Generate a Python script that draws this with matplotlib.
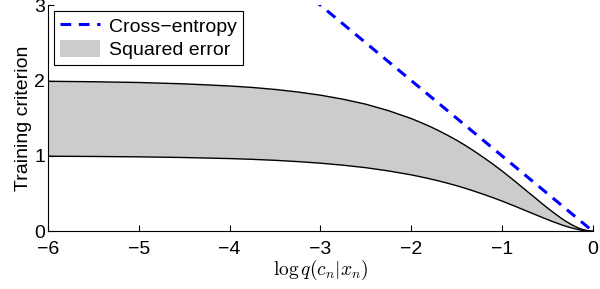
import matplotlib
matplotlib.use("Agg")
import matplotlib.pyplot as plt

plt.rcParams['font.family'] = ['Liberation Sans', 'DejaVu Sans']
plt.rcParams['mathtext.fontset'] = 'cm'

# values
log_q = [-6, -5.5, -5, -4.5, -4, -3.75, -3.5, -3.25, -3, -2.75, -2.5, -2.25, -2,
         -1.9, -1.8, -1.7, -1.6, -1.5, -1.4, -1.3, -1.2, -1.1, -1,
         -0.95, -0.9, -0.85, -0.8, -0.75, -0.7, -0.65, -0.6, -0.55, -0.5,
         -0.45, -0.4, -0.35, -0.3, -0.25, -0.2, -0.15, -0.1, -0.05, -0.025, 0]
sq_lower = [0.995, 0.992, 0.987, 0.978, 0.964, 0.954, 0.941, 0.924, 0.903,
            0.876, 0.843, 0.800, 0.748,
            0.723, 0.697, 0.668, 0.637, 0.604, 0.568, 0.529, 0.488, 0.445, 0.400,
            0.376, 0.352, 0.328, 0.303, 0.278, 0.253, 0.229, 0.204, 0.179, 0.155,
            0.131, 0.109, 0.087, 0.067, 0.049, 0.033, 0.019, 0.009, 0.0024, 0.0006, 0]
sq_upper = [1.990, 1.984, 1.974, 1.956, 1.928, 1.908, 1.882, 1.848, 1.806,
            1.752, 1.686, 1.600, 1.496,
            1.446, 1.394, 1.336, 1.274, 1.208, 1.136, 1.058, 0.976, 0.890, 0.800,
            0.752, 0.704, 0.656, 0.606, 0.556, 0.506, 0.458, 0.408, 0.358, 0.310,
            0.262, 0.218, 0.174, 0.134, 0.098, 0.066, 0.038, 0.018, 0.0048, 0.0012, 0]
ce_x = [-6, 0]
ce_y = [6, 0]

xticks = [-6, -5, -4, -3, -2, -1, 0]
yticks = [0, 1, 2, 3]

fs = 14

fig = plt.figure(figsize=(6, 2.89), dpi=100)
ax = fig.add_axes([0.08, 0.2, 0.908, 0.782])

ax.fill_between(log_q, sq_lower, sq_upper, facecolor='#cccccc', edgecolor='none',
                label='Squared error')
ax.plot(log_q, sq_lower, color='black', lw=1)
ax.plot(log_q, sq_upper, color='black', lw=1)
ax.plot(ce_x, ce_y, color='blue', ls='--', lw=2.2, dashes=(3.5, 2.5),
        label='Cross\u2212entropy')

ax.set_xlim(-6, 0)
ax.set_ylim(0, 3)
ax.set_xticks(xticks)
ax.set_yticks(yticks)
ax.tick_params(direction='in', length=4, labelsize=fs)
ax.tick_params(axis='x', pad=7)
ax.tick_params(axis='y', pad=2)
ax.spines['top'].set_visible(False)
ax.spines['right'].set_visible(False)
ax.set_xlabel(r'$\log q(c_n|x_n)$', fontsize=fs, labelpad=0)
ax.set_ylabel('Training criterion', fontsize=fs, labelpad=2)

handles, labels = ax.get_legend_handles_labels()
leg = ax.legend(handles[::-1], labels[::-1], loc='upper left', fontsize=fs,
                fancybox=False, framealpha=1, edgecolor='black',
                borderaxespad=0.3, handlelength=2.05, handleheight=0.95,
                handletextpad=0.5, borderpad=0.3, labelspacing=0.2)
leg.get_frame().set_linewidth(0.8)

fig.savefig('out.png', dpi=100)
